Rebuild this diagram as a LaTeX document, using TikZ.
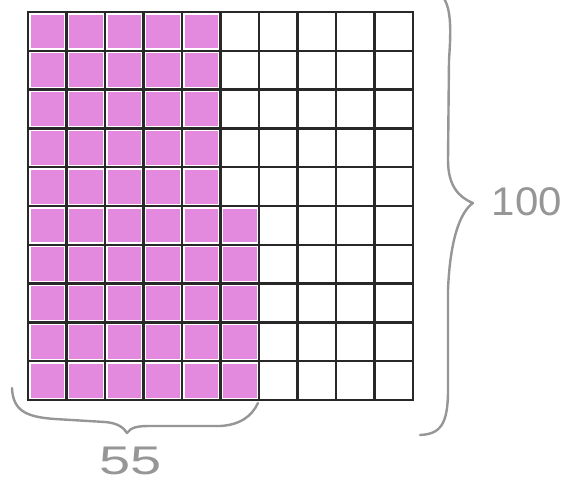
\documentclass[tikz,border=0pt]{standalone}
\usepackage{fontspec}
\setmainfont{Liberation Sans}
\definecolor{cellpink}{RGB}{228,138,222}
\definecolor{gridline}{RGB}{40,40,40}
\definecolor{bracegray}{RGB}{150,150,150}
\begin{document}
\begin{tikzpicture}[x=1pt,y=-1pt,
  gridstyle/.style={draw=gridline,line width=2.5pt},
  pinkcell/.style={fill=cellpink},
  bracestyle/.style={draw=bracegray,line width=2.4pt,line cap=round,line join=round},
  lbl/.style={text=bracegray,font=\fontsize{40}{40}\selectfont,inner sep=0pt}]
\useasboundingbox (0,0) rectangle (575,483);
\fill[white] (0,0) rectangle (575,483);
% pink cells
\foreach \c in {0,...,4}{
  \foreach \r in {0,...,9}{
    \fill[pinkcell] ({28+38.5*\c+2.5},{12+38.8*\r+2.5}) rectangle ({28+38.5*(\c+1)-2.5},{12+38.8*(\r+1)-2.5});
  }
}
\foreach \r in {5,...,9}{
  \fill[pinkcell] ({28+38.5*5+2.5},{12+38.8*\r+2.5}) rectangle ({28+38.5*6-2.5},{12+38.8*(\r+1)-2.5});
}
% grid
\foreach \i in {0,...,10}{
  \draw[gridstyle] ({28+38.5*\i},12) -- ({28+38.5*\i},400);
  \draw[gridstyle] (28,{12+38.8*\i}) -- (413,{12+38.8*\i});
}
\draw[gridstyle,line width=2.8pt] (28,12) rectangle (413,400);
% right brace
\draw[bracestyle] (440,-6) .. controls (452,4) and (451,30) .. (449,60)
  -- (448,160) .. controls (448,185) and (458,197) .. (473,203)
  .. controls (460,212) and (450,240) .. (448,290)
  -- (448,390) .. controls (448,425) and (440,434) .. (420,435);
\node[lbl,anchor=center,xscale=1.05] (hundred) at (527,202) {100};
% bottom brace
\draw[bracestyle] (12,388) .. controls (13,410) and (25,417) .. (55,419)
  -- (105,422) .. controls (118,423) and (124,428) .. (127,433)
  .. controls (131,427) and (138,426) .. (150,426)
  -- (220,426) .. controls (240,425) and (252,416) .. (258,403);
\node[lbl,anchor=center,xscale=1.4] (fiftyfive) at (131,461) {55};
\end{tikzpicture}
\end{document}
